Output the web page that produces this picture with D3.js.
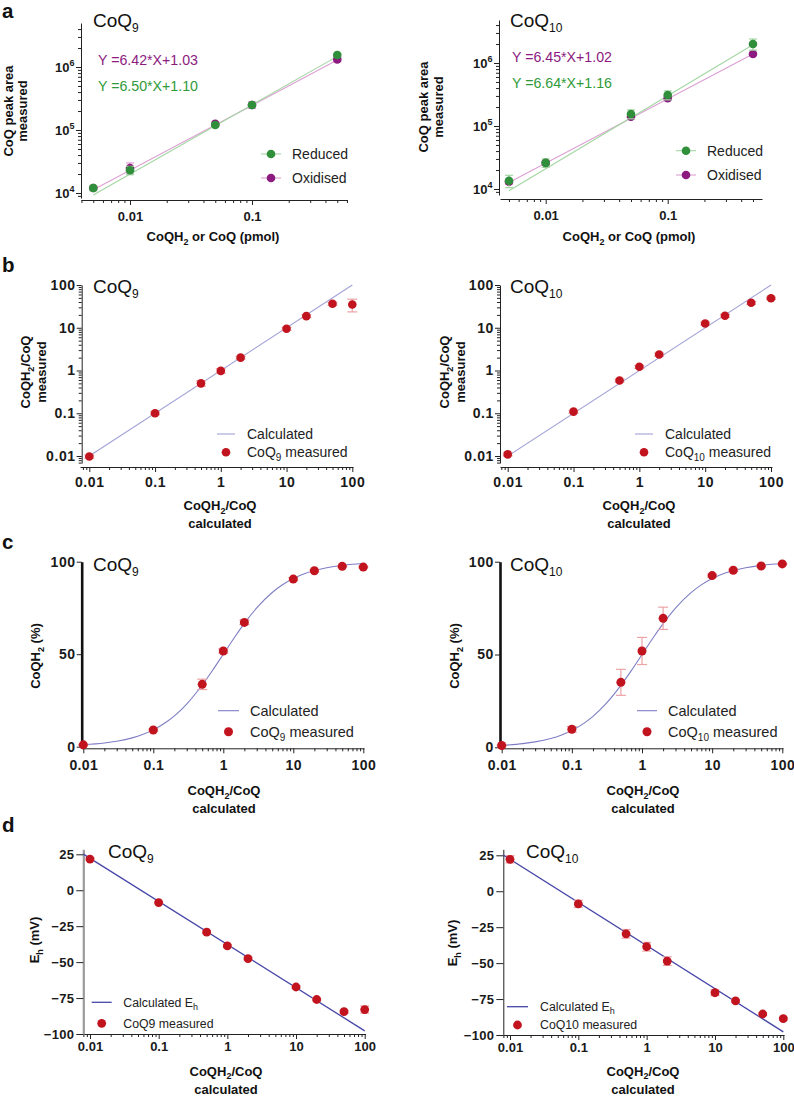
<!DOCTYPE html>
<html><head><meta charset="utf-8">
<script src="https://cdn.jsdelivr.net/npm/d3@7"></script>
<style>body{margin:0;background:#fff}</style>
</head><body><svg id="fig" width="794" height="1096" xmlns="http://www.w3.org/2000/svg"></svg>
<script>
// ---------------- DATA ----------------
// Panel a: CoQ amount loaded (pmol) vs peak area
const aLoad = [0.005, 0.01, 0.05, 0.1, 0.5];
const aQ9Reduced = [12000, 23000, 120000, 250000, 1550000];
const aQ9ReducedSD = [1200, 3500, 8000, 20000, 100000];
const aQ9Oxidised = [12000, 25000, 125000, 250000, 1320000];
const aQ9OxidisedSD = [1000, 5000, 8000, 30000, 100000];
const aQ10Reduced = [13500, 26000, 155000, 310000, 2000000];
const aQ10ReducedSD = [3000, 4000, 25000, 50000, 400000];
const aQ10Oxidised = [13000, 26000, 140000, 275000, 1390000];
const aQ10OxidisedSD = [1000, 2000, 10000, 20000, 80000];
// log-log fits: [reduced, oxidised]
const aQ9FitA = [6.50, 6.42], aQ9FitB = [1.10, 1.03];
const aQ10FitA = [6.64, 6.45], aQ10FitB = [1.16, 1.02];
const aQ9Eq = ["Y =6.50*X+1.10", "Y =6.42*X+1.03"];
const aQ10Eq = ["Y =6.64*X+1.16", "Y =6.45*X+1.02"];
const aSeriesNames = ["Reduced", "Oxidised"];

// Panels b-d: CoQH2/CoQ calculated ratio
const ratioX = [0.01, 0.1, 0.5, 1, 2, 10, 20, 50, 100];
// b: measured ratio
const bQ9 = [0.0097, 0.1, 0.5, 0.98, 2.0, 9.5, 18.7, 36.5, 35];
const bQ9SD = [0.0008, 0.008, 0.07, 0.12, 0.15, 0.8, 1.5, 3, 11.5];
const bQ10 = [0.0109, 0.109, 0.584, 1.22, 2.37, 12.6, 19.1, 38.4, 49];
const bQ10SD = [0.0008, 0.008, 0.05, 0.1, 0.2, 1.0, 1.5, 3, 3];
const bCalcX = [0.01, 100], bCalcY = [0.01, 100];
// c: CoQH2 (%)
const cQ9 = [1.0, 9.0, 33.7, 51.7, 67.2, 90.6, 95.1, 97.5, 97.1];
const cQ9SD = [0.3, 0.6, 2.8, 1.2, 1.2, 0.8, 0.6, 0.4, 0.4];
const cQ10 = [1.0, 9.7, 35.0, 51.9, 69.5, 92.5, 95.4, 97.7, 98.8];
const cQ10SD = [0.3, 1.5, 7.0, 7.3, 6.0, 0.8, 0.6, 0.5, 0.3];
const cCalcX = [0.01,0.02,0.03,0.05,0.07,0.1,0.15,0.2,0.3,0.5,0.7,1,1.5,2,3,5,7,10,15,20,30,50,70,100];
const cCalcY = [0.99,1.96,2.91,4.76,6.54,9.09,13.04,16.67,23.08,33.33,41.18,50,60,66.67,75,83.33,87.5,90.91,93.75,95.24,96.77,98.04,98.59,99.01];
// d: Eh (mV)
const dQ9 = [21.7, -8.6, -29.2, -38.7, -47.5, -67.3, -76.0, -84.5, -83.0];
const dQ9SD = [0.8, 0.8, 1, 1, 1, 1, 1, 1, 2.5];
const dQ10 = [22.2, -8.8, -29.6, -38.6, -48.6, -70.6, -76.2, -85.4, -88.6];
const dQ10SD = [2.5, 2.5, 3, 3, 3, 2, 1, 1, 1];
const dCalcX = [0.008, 100], dCalcY = [25.1, -97.8];
const dYTicks = [-100, -75, -50, -25, 0, 25];
const cYTicks = [0, 50, 100];

// ---------------- HELPERS ----------------
const FONT = "'Liberation Sans', Arial, Helvetica, sans-serif";
const svg = d3.select('#fig');
const RED = '#c1141e', ERR = '#eba3a7';
const GREEN = '#2f8f3a', GREEN_L = '#a3d6a3', PURPLE = '#8c1a7f', PURPLE_L = '#dca0d3';

function logScale(v1,p1,v2,p2,pa,pb){
  const s = d3.scaleLog().domain([v1,v2]).range([p1,p2]);
  return d3.scaleLog().domain([s.invert(pa), s.invert(pb)]).range([pa,pb]);
}
function linScale(v1,p1,v2,p2,pa,pb){
  const s = d3.scaleLinear().domain([v1,v2]).range([p1,p2]);
  return d3.scaleLinear().domain([s.invert(pa), s.invert(pb)]).range([pa,pb]);
}
function logTickSets(scale){
  const [a,b] = d3.extent(scale.domain());
  const majors=[], minors=[];
  for(let e=Math.floor(Math.log10(a)); e<=Math.ceil(Math.log10(b)); e++){
    for(let k=1;k<10;k++){
      const v = +(k*Math.pow(10,e)).toPrecision(6);
      if (v < a*0.999 || v > b*1.001) continue;
      (k===1?majors:minors).push(v);
    }
  }
  return {majors, minors};
}
const fmtNum = v => v >= 1 ? d3.format('d')(v) : String(+v.toPrecision(1));

function drawAxis(g, scale, orient, pos, o){
  const A = orient==='left'? d3.axisLeft : d3.axisBottom;
  const tr = orient==='left' ? `translate(${pos},0)` : `translate(0,${pos})`;
  const ag = g.append('g').attr('transform',tr).attr('color', o.color||'#222');
  if (o.minors && o.minors.length){
    const m = ag.append('g').call(A(scale).tickValues(o.minors).tickSize(o.minorLen).tickSizeOuter(0).tickFormat(''));
    m.select('.domain').remove();
    m.selectAll('line').attr('stroke', '#222');
  }
  const M = ag.append('g').call(A(scale).tickValues(o.majors).tickSize(o.majorLen).tickSizeOuter(0).tickPadding(o.pad).tickFormat(o.fmt));
  M.select('.domain').attr('stroke-width', o.width||1).attr('stroke', o.domainColor||'#222');
  M.selectAll('.tick line').attr('stroke','#222');
  M.selectAll('text').attr('font-family',FONT).attr('font-weight','bold')
    .attr('font-size',o.size).attr('fill','#1a1a1a').attr('letter-spacing', o.ls||0);
  return M;
}

function rich(g, x, y, parts, o){
  const t = g.append('text').attr('x',x).attr('y',y).attr('font-family',FONT)
    .attr('font-size',o.size).attr('font-weight',o.weight||'normal')
    .attr('fill',o.fill||'#111').attr('text-anchor',o.anchor||'start');
  if (o.transform) t.attr('transform', o.transform);
  let shift = 0;
  parts.forEach(([s, kind]) => {
    const ts = t.append('tspan').text(s);
    const target = kind==='sub' ? (o.subShift ?? o.size*0.3) : kind==='sup' ? -o.size*0.45 : 0;
    if (target !== shift) { ts.attr('dy', target - shift); shift = target; }
    if (kind) ts.attr('font-size', o.subSize ?? o.size*0.62);
  });
  return t;
}

function drawPoints(g, x, y, xs, ys, sds, color, errColor, r, cap, isLog){
  const data = xs.map((xv,i)=>({x:xv, y:ys[i], sd:sds[i]}));
  const lo = d => isLog ? Math.max(d.y - d.sd, d.y*0.05) : d.y - d.sd;
  const e = g.append('g').selectAll('g').data(data).join('g')
    .attr('stroke', errColor).attr('stroke-width', 1.2).attr('fill','none');
  e.append('line').attr('x1',d=>x(d.x)).attr('x2',d=>x(d.x)).attr('y1',d=>y(lo(d))).attr('y2',d=>y(d.y+d.sd));
  e.append('line').attr('x1',d=>x(d.x)-cap).attr('x2',d=>x(d.x)+cap).attr('y1',d=>y(lo(d))).attr('y2',d=>y(lo(d)));
  e.append('line').attr('x1',d=>x(d.x)-cap).attr('x2',d=>x(d.x)+cap).attr('y1',d=>y(d.y+d.sd)).attr('y2',d=>y(d.y+d.sd));
  g.append('g').selectAll('circle').data(data).join('circle')
    .attr('cx',d=>x(d.x)).attr('cy',d=>y(d.y)).attr('r',r).attr('fill',color);
}

// ---------------- PANEL LABELS ----------------
[['a',2,18],['b',2,272],['c',2,549],['d',2,832]].forEach(([s,x,y])=>{
  svg.append('text').attr('x',x).attr('y',y).attr('font-family',FONT).attr('font-weight','bold')
    .attr('font-size',20.5).attr('fill','#111').text(s);
});

// ---------------- PANEL A ----------------
const aPanels = [
  {sub:'9', x: logScale(0.01,130,0.1,252,81,347), y: logScale(1e4,193,1e6,67,198,23), xAxisY:200, yAxisX:81,
   red:aQ9Reduced, redSD:aQ9ReducedSD, ox:aQ9Oxidised, oxSD:aQ9OxidisedSD, fa:aQ9FitA, fb:aQ9FitB, eq:aQ9Eq,
   titleX:93, eqX:98, eqY:[90.5,64.5], legX:271, legY:[154,178], yTitleX:[12.5,26.5], yTitleY:111, xTitleX:213},
  {sub:'10', x: logScale(0.01,545.7,0.1,667.7,500,762), y: logScale(1e4,189,1e6,63,195,20), xAxisY:199, yAxisX:499,
   red:aQ10Reduced, redSD:aQ10ReducedSD, ox:aQ10Oxidised, oxSD:aQ10OxidisedSD, fa:aQ10FitA, fb:aQ10FitB, eq:aQ10Eq,
   titleX:510, eqX:512, eqY:[88,61.5], legX:686, legY:[150.7,175], yTitleX:[428,443], yTitleY:107, xTitleX:629}
];
aPanels.forEach(p=>{
  const g = svg.append('g');
  const xt = logTickSets(p.x), yt = logTickSets(p.y);
  drawAxis(g, p.x, 'bottom', p.xAxisY, {majors:xt.majors.filter(v=>v>=0.01&&v<=0.1), minors:xt.minors, majorLen:5, minorLen:3, pad:6.5, fmt:fmtNum, size:13});
  const ya = drawAxis(g, p.y, 'left', p.yAxisX, {majors:yt.majors, minors:yt.minors, majorLen:5, minorLen:3, pad:1.5, fmt:()=>'', size:13});
  ya.selectAll('.tick text').each(function(d){
    const t = d3.select(this);
    t.append('tspan').text('10');
    t.append('tspan').attr('dy',-5.5).attr('font-size',9).text(Math.round(Math.log10(d)));
  });
  const cols = [GREEN_L, PURPLE_L];
  [1,0].forEach(i=>{
    const ends = [aLoad[0], aLoad[aLoad.length-1]];
    g.append('path').datum(ends).attr('fill','none').attr('stroke',cols[i]).attr('stroke-width',1.1)
      .attr('d', d3.line().x(d=>p.x(d)).y(d=>p.y(Math.pow(10, p.fa[i] + p.fb[i]*Math.log10(d)))));
  });
  drawPoints(g, p.x, p.y, aLoad, p.ox, p.oxSD, PURPLE, PURPLE_L, 4.3, 4, true);
  drawPoints(g, p.x, p.y, aLoad, p.red, p.redSD, GREEN, GREEN_L, 4.3, 4, true);
  rich(g, p.titleX, 26.5, [['CoQ'],[p.sub,'sub']], {size:19, subSize:12, subShift:5});
  g.append('text').attr('x',p.eqX).attr('y',p.eqY[1]).attr('font-family',FONT).attr('font-size',14.2).attr('fill',PURPLE).text(p.eq[1]);
  g.append('text').attr('x',p.eqX).attr('y',p.eqY[0]).attr('font-family',FONT).attr('font-size',14.2).attr('fill','#2f9a3a').text(p.eq[0]);
  [[GREEN,GREEN_L],[PURPLE,PURPLE_L]].forEach(([c,cl],i)=>{
    const ly = p.legY[i];
    g.append('line').attr('x1',p.legX-10).attr('x2',p.legX+10).attr('y1',ly).attr('y2',ly).attr('stroke',cl).attr('stroke-width',1.1);
    g.append('circle').attr('cx',p.legX).attr('cy',ly).attr('r',4.3).attr('fill',c);
    g.append('text').attr('x',p.legX+21).attr('y',ly+5).attr('font-family',FONT).attr('font-size',14).attr('fill','#222').text(aSeriesNames[i]);
  });
  rich(g, 0, 0, [['CoQ peak area']], {size:13, weight:'bold', anchor:'middle', transform:`translate(${p.yTitleX[0]},${p.yTitleY}) rotate(-90)`});
  rich(g, 0, 0, [['measured']], {size:13, weight:'bold', anchor:'middle', transform:`translate(${p.yTitleX[1]},${p.yTitleY}) rotate(-90)`});
  rich(g, p.xTitleX, 241, [['CoQH'],['2','sub'],[' or CoQ (pmol)']], {size:13, weight:'bold', anchor:'middle', subSize:9, subShift:3.5});
});

// ---------------- PANEL B ----------------
const bPanels = [
  {sub:'9', x: logScale(0.01,89.3,100,352.3,80,353), y: logScale(0.01,456,100,285,463,285), xAxisY:467, yAxisX:81.7,
   data:bQ9, sd:bQ9SD, titleX:93, legLine:[217,235], legX:247, yTitleX:[30,46], xTitleX:220},
  {sub:'10', x: logScale(0.01,507.7,100,771,500,772), y: logScale(0.01,456,100,285,463,285), xAxisY:467, yAxisX:500,
   data:bQ10, sd:bQ10SD, titleX:510, legLine:[635,653], legX:665, yTitleX:[449,465], xTitleX:639}
];
bPanels.forEach(p=>{
  const g = svg.append('g');
  const xt = logTickSets(p.x), yt = logTickSets(p.y);
  drawAxis(g, p.x, 'bottom', p.xAxisY, {majors:xt.majors, minors:xt.minors, majorLen:5, minorLen:3, pad:5, fmt:fmtNum, size:14, ls:0.6});
  drawAxis(g, p.y, 'left', p.yAxisX, {majors:yt.majors, minors:yt.minors, majorLen:5, minorLen:3, pad:1, fmt:fmtNum, size:14, ls:0.6});
  g.append('path').datum(bCalcX.map((v,i)=>[v,bCalcY[i]])).attr('fill','none').attr('stroke','#a2a2d8').attr('stroke-width',1.1)
    .attr('d', d3.line().x(d=>p.x(d[0])).y(d=>p.y(d[1])));
  drawPoints(g, p.x, p.y, ratioX, p.data, p.sd, RED, ERR, 4.3, 5, true);
  rich(g, p.titleX, 293, [['CoQ'],[p.sub,'sub']], {size:19, subSize:12, subShift:5});
  g.append('line').attr('x1',p.legLine[0]).attr('x2',p.legLine[1]).attr('y1',434).attr('y2',434).attr('stroke','#a2a2d8').attr('stroke-width',1.1);
  rich(g, p.legX, 439, [['Calculated']], {size:14, fill:'#222'});
  g.append('circle').attr('cx',(p.legLine[0]+p.legLine[1])/2).attr('cy',452.3).attr('r',4.3).attr('fill',RED);
  rich(g, p.legX, 457, [['CoQ'],[p.sub,'sub'],[' measured']], {size:14, fill:'#222', subSize:10, subShift:4});
  rich(g, 0, 0, [['CoQH'],['2','sub'],['/CoQ']], {size:13, weight:'bold', anchor:'middle', subSize:9, subShift:3.5, transform:`translate(${p.yTitleX[0]},372) rotate(-90)`});
  rich(g, 0, 0, [['measured']], {size:13, weight:'bold', anchor:'middle', transform:`translate(${p.yTitleX[1]},372) rotate(-90)`});
  rich(g, p.xTitleX, 510, [['CoQH'],['2','sub'],['/CoQ']], {size:13, weight:'bold', anchor:'middle', subSize:9, subShift:3.5});
  rich(g, p.xTitleX, 528, [['calculated']], {size:13, weight:'bold', anchor:'middle'});
});

// ---------------- PANEL C ----------------
const cPanels = [
  {sub:'9', x: logScale(0.01,83.3,100,363.3,81.7,364), y: linScale(0,746.7,100,561.7,748.3,561.7), xAxisY:748.3, yAxisX:81.7,
   data:cQ9, sd:cQ9SD, titleX:93, legLine:[218,239], legX:250, yTitleX:40, xTitleX:224},
  {sub:'10', x: logScale(0.01,501.7,100,782.3,500,783), y: linScale(0,747.3,100,561.7,748.3,561.7), xAxisY:748.3, yAxisX:500,
   data:cQ10, sd:cQ10SD, titleX:510, legLine:[637,657], legX:668, yTitleX:459, xTitleX:643}
];
cPanels.forEach(p=>{
  const g = svg.append('g');
  const xt = logTickSets(p.x);
  drawAxis(g, p.x, 'bottom', p.xAxisY, {majors:xt.majors, minors:xt.minors, majorLen:5, minorLen:3, pad:6.5, fmt:fmtNum, size:14, ls:0.4});
  drawAxis(g, p.y, 'left', p.yAxisX, {majors:cYTicks, minors:[], majorLen:5, minorLen:3, pad:1, fmt:d3.format('d'), size:14, ls:0.6, width:2.6, domainColor:'#111'});
  g.append('path').datum(cCalcX.map((v,i)=>[v,cCalcY[i]])).attr('fill','none').attr('stroke','#7e7ec6').attr('stroke-width',1.1)
    .attr('d', d3.line().curve(d3.curveMonotoneX).x(d=>p.x(d[0])).y(d=>p.y(d[1])));
  drawPoints(g, p.x, p.y, ratioX, p.data, p.sd, RED, ERR, 4.5, 5, false);
  rich(g, p.titleX, 571, [['CoQ'],[p.sub,'sub']], {size:19, subSize:12, subShift:5});
  g.append('line').attr('x1',p.legLine[0]).attr('x2',p.legLine[1]).attr('y1',710.7).attr('y2',710.7).attr('stroke','#7e7ec6').attr('stroke-width',1.1);
  rich(g, p.legX, 716, [['Calculated']], {size:14.5, fill:'#222'});
  g.append('circle').attr('cx',(p.legLine[0]+p.legLine[1])/2).attr('cy',731.7).attr('r',4.5).attr('fill',RED);
  rich(g, p.legX, 737, [['CoQ'],[p.sub,'sub'],[' measured']], {size:14.5, fill:'#222', subSize:10, subShift:4});
  rich(g, 0, 0, [['CoQH'],['2','sub'],[' (%)']], {size:13, weight:'bold', anchor:'middle', subSize:9, subShift:3.5, transform:`translate(${p.yTitleX},656) rotate(-90)`});
  rich(g, p.xTitleX, 795, [['CoQH'],['2','sub'],['/CoQ']], {size:13, weight:'bold', anchor:'middle', subSize:9, subShift:3.5});
  rich(g, p.xTitleX, 813, [['calculated']], {size:13, weight:'bold', anchor:'middle'});
});

// ---------------- PANEL D ----------------
const dPanels = [
  {sub:'9', name:'CoQ9 measured', x: logScale(0.01,90,100,364.7,83.3,365.5), y: linScale(25,854.3,-100,1034,1034,849.3), xAxisY:1034, yAxisX:83.3,
   data:dQ9, sd:dQ9SD, titleX:108, legLine:[91.7,111.7], legX:123.3, legY:[1002.3,1023.3], yTitleX:39, yTitleY:940, xTitleX:226, axisCol:'#9a9a9a', axisW:2.2},
  {sub:'10', name:'CoQ10 measured', x: logScale(0.01,510,100,783.3,503.3,784), y: linScale(25,855.3,-100,1035,1035,849.3), xAxisY:1035, yAxisX:503.3,
   data:dQ10, sd:dQ10SD, titleX:526, legLine:[507,528], legX:540, legY:[1006.7,1025], yTitleX:457, yTitleY:943, xTitleX:643, axisCol:'#222', axisW:1}
];
dPanels.forEach(p=>{
  const g = svg.append('g');
  const xt = logTickSets(p.x);
  drawAxis(g, p.x, 'bottom', p.xAxisY, {majors:xt.majors, minors:xt.minors, majorLen:5, minorLen:3, pad:3, fmt:fmtNum, size:13, ls:0});
  drawAxis(g, p.y, 'left', p.yAxisX, {majors:dYTicks, minors:[], majorLen:7, minorLen:3, pad:2, fmt:d3.format('d'), size:13, ls:0.3, width:p.axisW, domainColor:p.axisCol});
  g.append('path').datum(dCalcX.map((v,i)=>[v,dCalcY[i]])).attr('fill','none').attr('stroke','#4646a8').attr('stroke-width',1.3)
    .attr('d', d3.line().x(d=>p.x(d[0])).y(d=>p.y(d[1])));
  drawPoints(g, p.x, p.y, ratioX, p.data, p.sd, RED, ERR, 4.4, 4.5, false);
  rich(g, p.titleX, 858, [['CoQ'],[p.sub,'sub']], {size:19, subSize:12, subShift:5});
  g.append('line').attr('x1',p.legLine[0]).attr('x2',p.legLine[1]).attr('y1',p.legY[0]).attr('y2',p.legY[0]).attr('stroke','#4646a8').attr('stroke-width',1.3);
  rich(g, p.legX, p.legY[0]+4.3, [['Calculated E'],['h','sub']], {size:12.3, fill:'#222', subSize:9, subShift:3});
  g.append('circle').attr('cx',(p.legLine[0]+p.legLine[1])/2).attr('cy',p.legY[1]).attr('r',4.4).attr('fill',RED);
  rich(g, p.legX, p.legY[1]+4.3, [[p.name]], {size:12.3, fill:'#222'});
  rich(g, 0, 0, [['E'],['h','sub'],[' (mV)']], {size:13, weight:'bold', anchor:'middle', subSize:9, subShift:3.5, transform:`translate(${p.yTitleX},${p.yTitleY}) rotate(-90)`});
  rich(g, p.xTitleX, 1075.5, [['CoQH'],['2','sub'],['/CoQ']], {size:13, weight:'bold', anchor:'middle', subSize:9, subShift:3});
  rich(g, p.xTitleX, 1094, [['calculated']], {size:13, weight:'bold', anchor:'middle'});
});
</script></body></html>
